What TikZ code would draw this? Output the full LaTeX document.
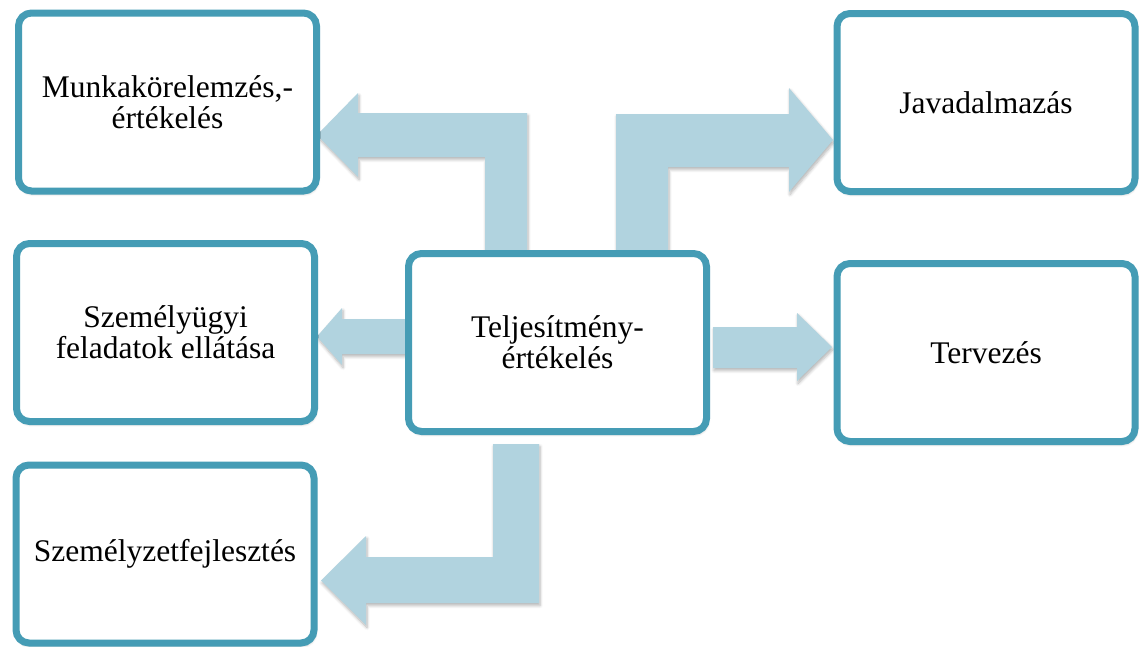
\documentclass[tikz,border=0pt]{standalone}
\usepackage{fontspec}
\setmainfont{Liberation Serif}
\usetikzlibrary{shadows.blur}
\definecolor{boxline}{HTML}{459CB5}
\definecolor{arrowfill}{HTML}{B1D3DF}
\tikzset{
  softshadow/.style={blur shadow={shadow xshift=1pt, shadow yshift=-2.5pt,
      shadow opacity=30, shadow blur radius=3pt, shadow blur steps=6}},
  topicbox/.style={rectangle, rounded corners=13pt, draw=boxline, line width=7pt,
      fill=white, minimum width=298pt, minimum height=178pt, inner sep=0pt,
      align=center, font=\fontsize{31.5}{31}\selectfont, softshadow},
  blockarrow/.style={fill=arrowfill, draw=none, softshadow}
}
\begin{document}
\begin{tikzpicture}[x=1pt,y=-1pt]
\useasboundingbox (0,0) rectangle (1148,646);

% block arrows leaving the central box
\path[blockarrow] (527,260) -- (527,113) -- (358,113) -- (358,93) -- (317,135)
  -- (358,177) -- (358,157) -- (485,157) -- (485,260) -- cycle;
\path[blockarrow] (616,260) -- (616,114) -- (789,114) -- (789,88) -- (833,140)
  -- (789,192) -- (789,167) -- (668,167) -- (668,260) -- cycle;
\path[blockarrow] (412,319) -- (342,319) -- (342,308) -- (317,336.5)
  -- (342,365) -- (342,354) -- (412,354) -- cycle;
\path[blockarrow] (713,327) -- (797,327) -- (797,313) -- (832,347)
  -- (797,381) -- (797,368) -- (713,368) -- cycle;
\path[blockarrow] (493,444) -- (539,444) -- (539,603) -- (366,603) -- (366,625)
  -- (321,580.5) -- (366,536) -- (366,557) -- (493,557) -- cycle;

% boxes
\node[topicbox] (munka) at (167.5,102) {Munkakörelemzés,-\\értékelés};
\node[topicbox] (szemugy) at (165.5,332.5) {Személyügyi\\feladatok ellátása};
\node[topicbox] (fejl) at (165,554) {Személyzetfejlesztés};
\node[topicbox] (telj) at (557.5,342.5) {Teljesítmény-\\értékelés};
\node[topicbox] (java) at (986,102.5) {Javadalmazás};
\node[topicbox] (terv) at (986,352.5) {Tervezés};
\end{tikzpicture}
\end{document}
